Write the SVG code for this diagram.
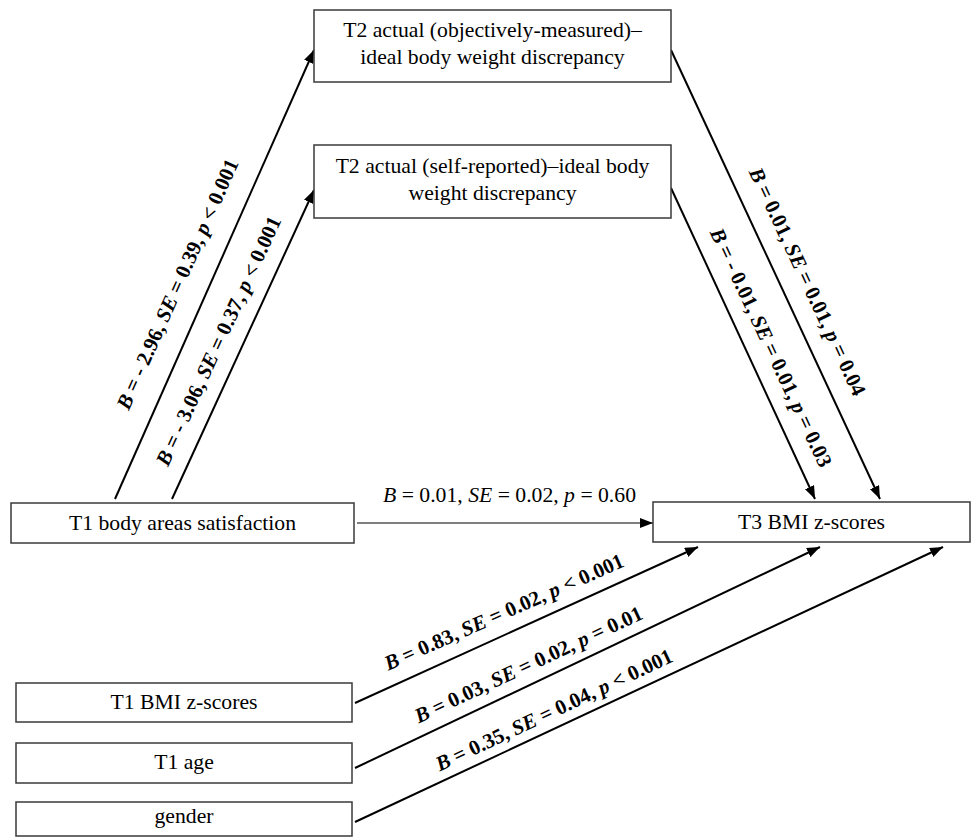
<svg xmlns="http://www.w3.org/2000/svg" width="971" height="837" viewBox="0 0 971 837">
<style>
.box{fill:#fff;stroke:#3a3a3a;stroke-width:1.5}
.t{font-size:21.7px;fill:#000;text-anchor:middle}
.lb{font-size:21px;font-weight:bold;fill:#000;text-anchor:middle}
.i{font-style:italic}
.c{stroke:#000;stroke-width:2;fill:none}
.h{stroke:#000;stroke-width:1.2;fill:none}
</style>
<defs>
<marker id="ah" markerUnits="userSpaceOnUse" markerWidth="13" markerHeight="10" refX="13" refY="5" orient="auto">
<path d="M0,0 L13,5 L0,10 z" fill="#000"/>
</marker>
</defs>
<g font-family="Liberation Serif, Tinos, DejaVu Serif, serif">
<g id="connectors">
<line class="c" x1="115" y1="499" x2="314" y2="50" marker-end="url(#ah)"/>
<line class="c" x1="172" y1="499" x2="314" y2="190" marker-end="url(#ah)"/>
<line class="c" x1="671" y1="50" x2="880" y2="499" marker-end="url(#ah)"/>
<line class="c" x1="671" y1="188" x2="815" y2="499" marker-end="url(#ah)"/>
<line class="h" x1="357" y1="523" x2="653" y2="523" marker-end="url(#ah)"/>
<line class="c" x1="355" y1="703" x2="698" y2="547" marker-end="url(#ah)"/>
<line class="c" x1="355" y1="768" x2="820" y2="547" marker-end="url(#ah)"/>
<line class="c" x1="355" y1="822" x2="943" y2="547" marker-end="url(#ah)"/>
<text class="lb" transform="translate(177.5,284) rotate(-66)" y="7"><tspan class="i">B</tspan> = - 2.96, <tspan class="i">SE</tspan> = 0.39, <tspan class="i">p</tspan> &lt; 0.001</text>
<text class="lb" transform="translate(218.5,341) rotate(-65.3)" y="7"><tspan class="i">B</tspan> = - 3.06, <tspan class="i">SE</tspan> = 0.37, <tspan class="i">p</tspan> &lt; 0.001</text>
<text class="lb" transform="translate(807.5,281.5) rotate(65)" y="7"><tspan class="i">B</tspan> = 0.01, <tspan class="i">SE</tspan> = 0.01, <tspan class="i">p</tspan> = 0.04</text>
<text class="lb" transform="translate(771,347.5) rotate(65)" y="7"><tspan class="i">B</tspan> = - 0.01, <tspan class="i">SE</tspan> = 0.01, <tspan class="i">p</tspan> = 0.03</text>
<text class="t" x="509.5" y="502"><tspan class="i">B</tspan> = 0.01, <tspan class="i">SE</tspan> = 0.02, <tspan class="i">p</tspan> = 0.60</text>
<text class="lb" transform="translate(504,612) rotate(-23.8)" y="7"><tspan class="i">B</tspan> = 0.83, <tspan class="i">SE</tspan> = 0.02, <tspan class="i">p</tspan> &lt; 0.001</text>
<text class="lb" transform="translate(528.5,664.5) rotate(-25)" y="7"><tspan class="i">B</tspan> = 0.03, <tspan class="i">SE</tspan> = 0.02, <tspan class="i">p</tspan> = 0.01</text>
<text class="lb" transform="translate(554,710) rotate(-25.2)" y="7"><tspan class="i">B</tspan> = 0.35, <tspan class="i">SE</tspan> = 0.04, <tspan class="i">p</tspan> &lt; 0.001</text>
</g>
<g id="n-t2-objective">
<rect class="box" x="314" y="10" width="357" height="72"/>
<text class="t" x="492.5" y="37">T2 actual (objectively-measured)–</text>
<text class="t" x="492.5" y="64">ideal body weight discrepancy</text>
</g>
<g id="n-t2-self">
<rect class="box" x="314" y="145" width="357" height="73"/>
<text class="t" x="492.5" y="173">T2 actual (self-reported)–ideal body</text>
<text class="t" x="492.5" y="200">weight discrepancy</text>
</g>
<g id="n-t1-body">
<rect class="box" x="11" y="503" width="343" height="40"/>
<text class="t" x="182.5" y="530">T1 body areas satisfaction</text>
</g>
<g id="n-t3-bmi">
<rect class="box" x="653" y="502" width="317" height="40"/>
<text class="t" x="811.5" y="529">T3 BMI z-scores</text>
</g>
<g id="n-t1-bmi">
<rect class="box" x="16" y="683" width="336" height="39"/>
<text class="t" x="184" y="709">T1 BMI z-scores</text>
</g>
<g id="n-t1-age">
<rect class="box" x="16" y="743" width="336" height="40"/>
<text class="t" x="184" y="769">T1 age</text>
</g>
<g id="n-gender">
<rect class="box" x="16" y="802" width="336" height="34"/>
<text class="t" x="184" y="823">gender</text>
</g>
</g>
</svg>
